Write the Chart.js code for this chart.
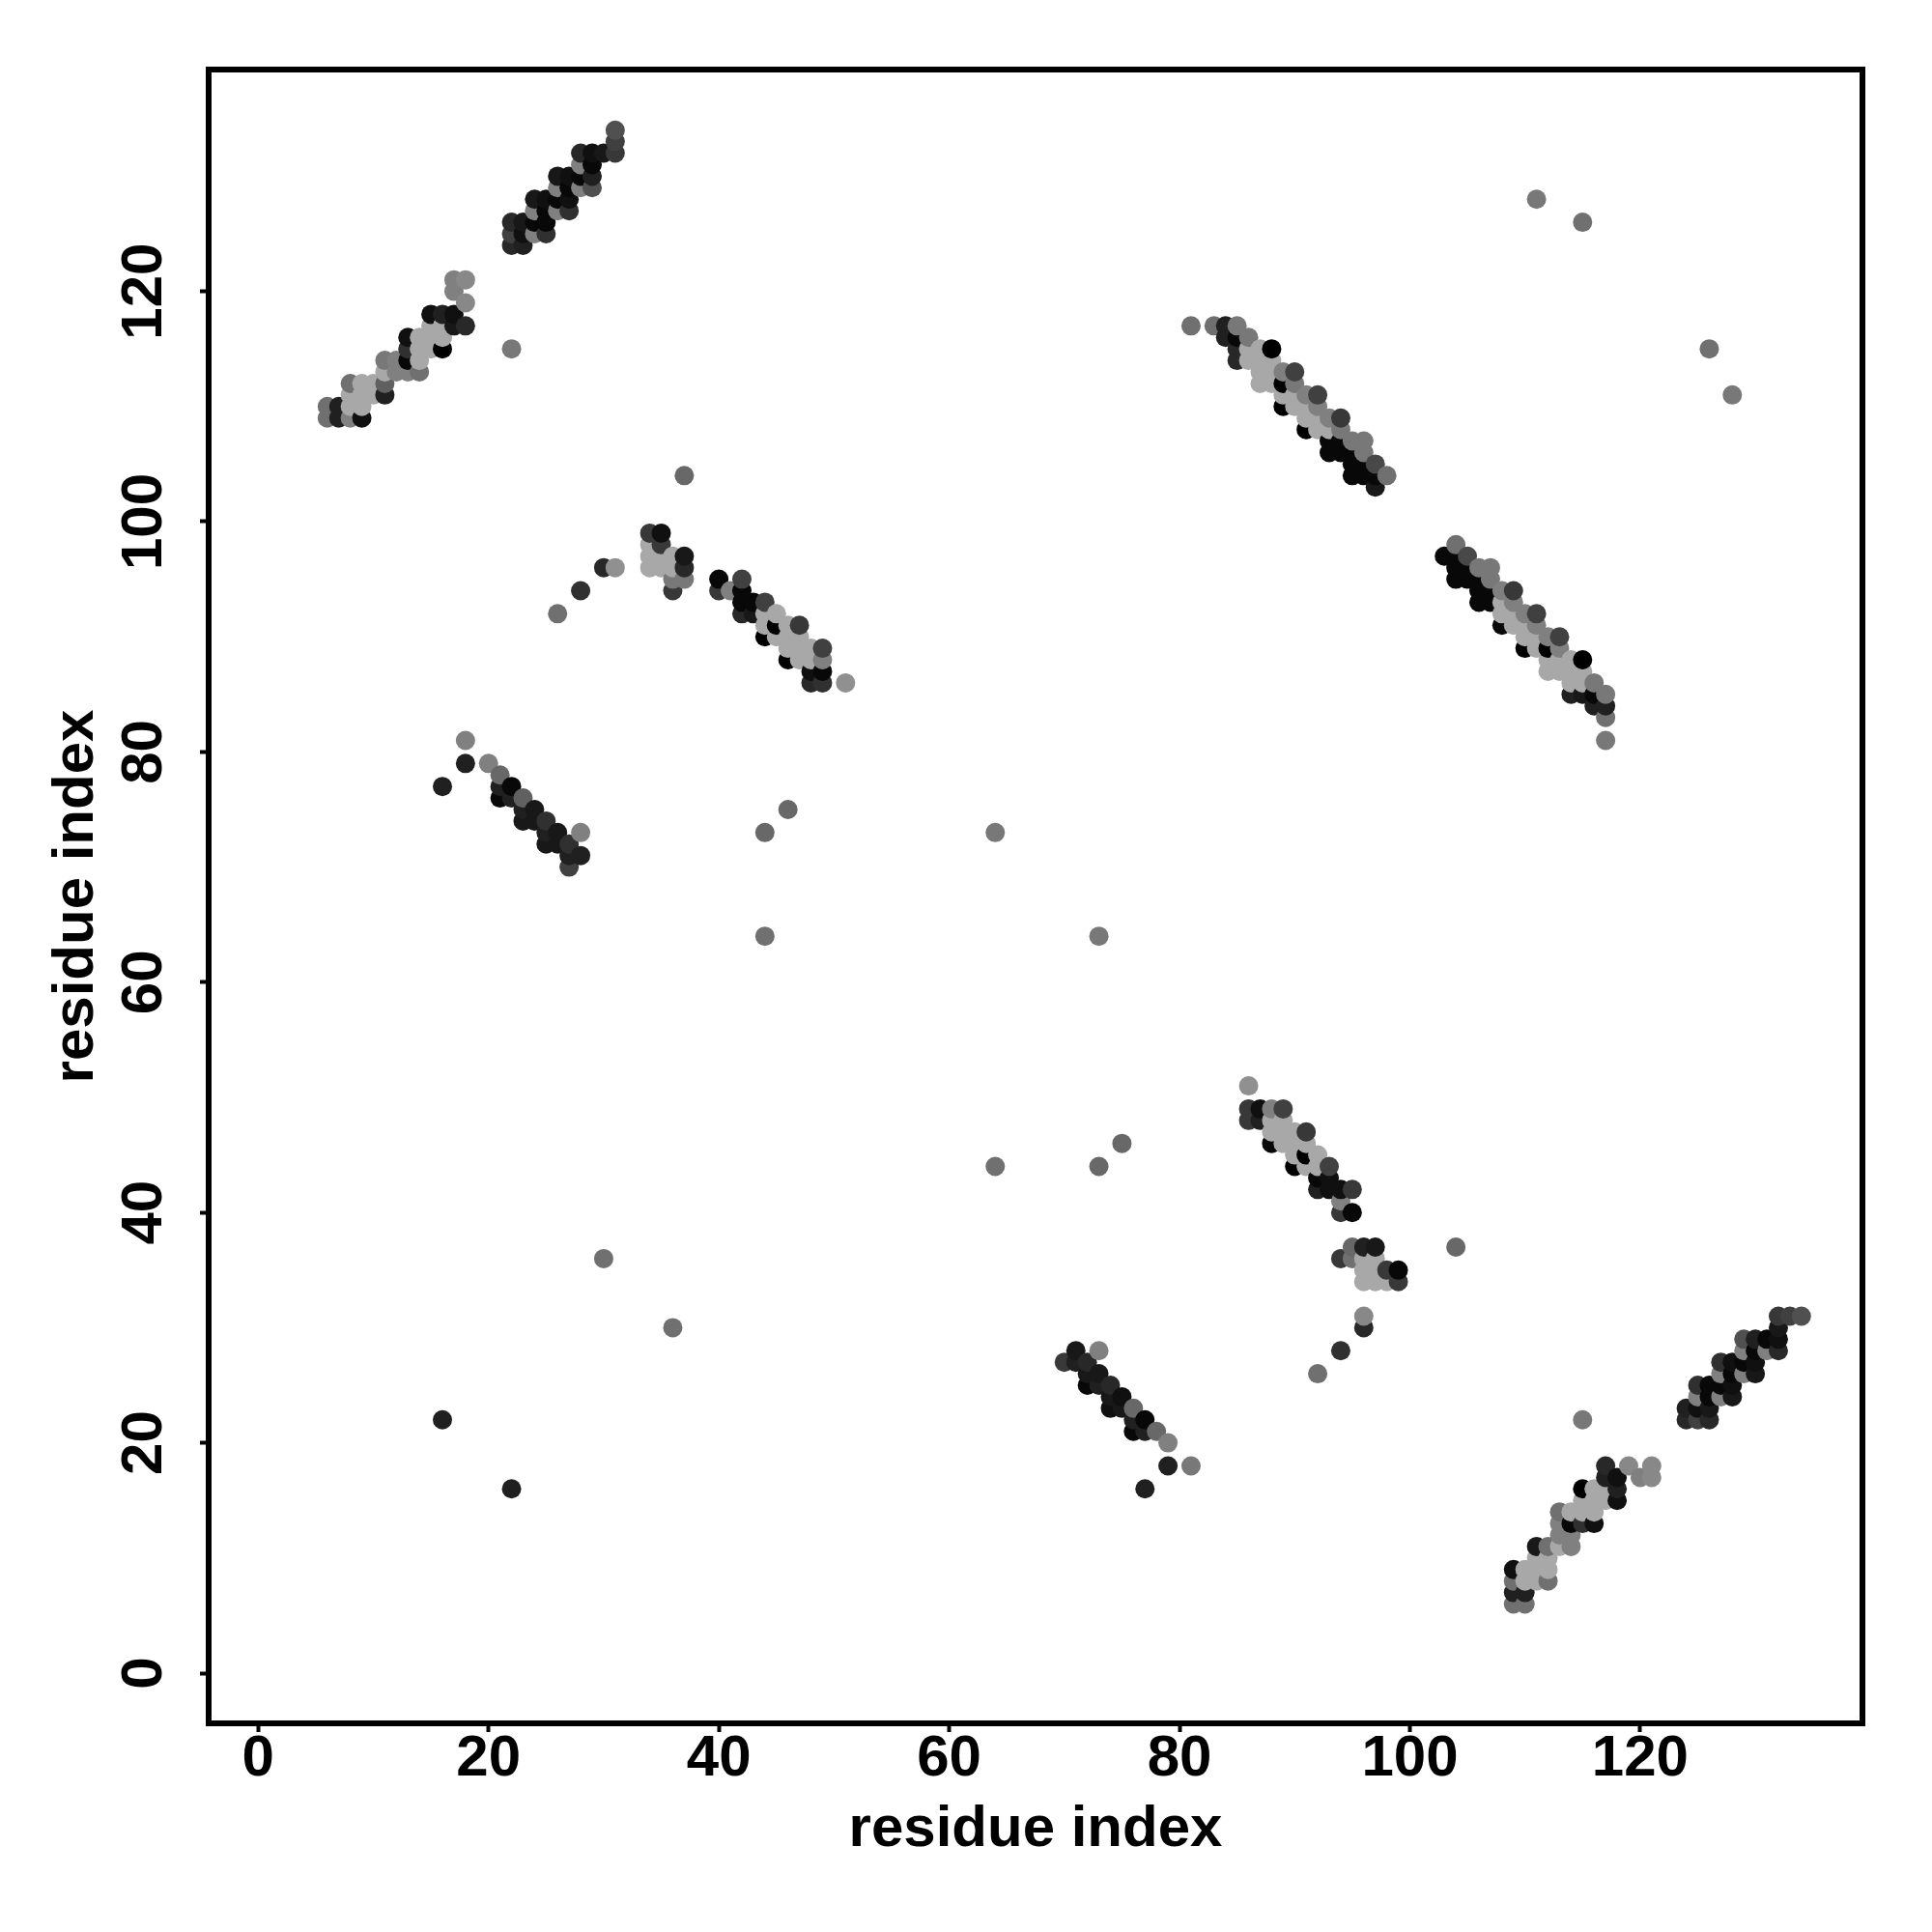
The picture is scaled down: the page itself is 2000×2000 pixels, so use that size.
<!DOCTYPE html>
<html>
<head>
<meta charset="utf-8">
<title>residue contact map</title>
<script src="https://cdn.jsdelivr.net/npm/chart.js@4"></script>
<style>
  html, body { margin: 0; background: #fff; }
  canvas { display: block; }
</style>
</head>
<body>
<canvas id="myChart" width="2000" height="2000"></canvas>
<script>
// one entry per residue column, points are drawn left to right, bottom to top
const columnX = [
  6, 7, 8, 9, 10, 11, 12, 13, 14, 15, 16, 17, 18, 20, 21, 22, 23, 24, 25, 26, 27, 28, 29, 30, 31,
  34, 35, 36, 37, 40, 41, 42, 43, 44, 45, 46, 47, 48, 49, 51, 64,
  70, 71, 72, 73, 74, 75, 76, 77, 78, 79, 81, 83, 84, 85, 86, 87, 88, 89, 90, 91, 92, 93, 94, 95, 96, 97, 98, 99,
  103, 104, 105, 106, 107, 108, 109, 110, 111, 112, 113, 114, 115, 116, 117, 118, 119, 120, 121,
  124, 125, 126, 127, 128, 129, 130, 131, 132, 133, 134
];
const columnY = [
  [109,110], [109,110], [109,110,111,112], [109,110,111,112], [111,112], [111,112,113,114], [113,114],
  [113,114,115,116], [113,114,115,116], [115,116,117,118], [22,77,115,116,117,118], [117,118,120,121],
  [79,81,117,119,121], [79], [76,77,78], [16,76,77,115,124,125,126], [74,75,76,124,125,126],
  [74,75,125,126,127,128], [72,73,74,125,126,127,128], [72,73,92,127,128,129,130], [70,71,72,127,128,129,130],
  [71,73,94,129,130,131,132], [129,130,131,132], [36,96,132], [96,132,133,134],
  [96,97,98,99], [96,97,98,99], [30,94,95,96,97], [95,96,97,104], [94,95], [94], [92,93,94,95], [92,93],
  [64,73,90,91,92,93], [90,91,92], [75,88,89,90,91], [88,89,90,91], [86,87,88,89], [86,87,88,89], [86], [44,73],
  [27], [27,28], [25,26,27], [25,26,28,44,64], [23,24,25], [23,24,46], [21,22,23], [16,21,22], [21], [18,20],
  [18,117], [117], [116,117], [114,115,116,117], [48,49,51,114,115,116], [48,49,112,113,114,115],
  [46,47,48,49,112,113,114,115], [46,47,48,49,110,111,112,113], [44,45,46,47,110,111,112,113],
  [44,45,46,47,108,109,110,111], [26,42,43,44,45,108,109,110,111], [42,43,44,106,107,108,109],
  [28,36,40,41,42,106,107,108,109], [36,37,40,42,104,105,106,107], [30,31,34,35,36,37,104,105,106,107],
  [34,35,36,37,103,104,105], [34,35,104], [34,35],
  [97], [37,95,96,97,98], [95,96,97], [93,94,95,96], [93,94,95,96], [91,92,93,94], [6,7,8,9,91,92,93,94],
  [6,7,8,9,89,90,91,92], [8,9,10,11,89,90,91,92,128], [8,9,10,11,87,88,89,90], [11,12,13,14,87,88,89,90],
  [11,12,13,14,85,86,87,88], [13,14,15,16,22,85,86,87,88,126], [13,14,15,16,84,85,86], [15,16,17,18,81,83,84,85],
  [15,16,17], [18], [17], [17,18],
  [22,23], [22,23,24,25], [22,23,24,25,115], [24,25,26,27], [24,25,26,27,111], [26,27,28,29], [26,27,28,29],
  [28,29], [28,29,30,31], [31], [31]
];
// grey level of each point, same shape as columnY
const columnShade = [
  [0x70,0x70], [0x20,0x20], [0x80,0xa8,0xa8,0x70], [0x10,0xa8,0xa8,0xa8], [0xa8,0xa8], [0x20,0x60,0xa8,0x78], [0x80,0x80],
  [0x80,0x08,0x30,0x10], [0x70,0xa8,0xa8,0xa8], [0xa8,0xa8,0xa8,0x10], [0x20,0x20,0x00,0xa8,0xa8,0x20], [0x18,0x10,0x80,0x80],
  [0x20,0x80,0x28,0x88,0x88], [0x80], [0x08,0x20,0x68], [0x20,0x20,0x08,0x78,0x28,0x40,0x28], [0x18,0x20,0x60,0x20,0x10,0x18],
  [0x18,0x18,0x80,0x08,0x80,0x18], [0x18,0x20,0x30,0x30,0x08,0x08,0x10], [0x18,0x18,0x70,0x80,0x08,0x80,0x18], [0x40,0x20,0x30,0x30,0x10,0x08,0x10],
  [0x20,0x80,0x30,0x80,0x08,0x80,0x28], [0x50,0x20,0x08,0x10], [0x70,0x28,0x18], [0x90,0x38,0x40,0x50],
  [0xa8,0xa8,0xa8,0x38], [0xa8,0xa8,0x38,0x10], [0x70,0x38,0x78,0xa8,0xa8], [0x78,0x28,0x18,0x68], [0x38,0x08], [0x80], [0x28,0x08,0x08,0x40], [0x18,0x08],
  [0x70,0x68,0x00,0xa8,0xa8,0x40], [0xa8,0x00,0xa8], [0x68,0x00,0xa8,0xa8,0xa8], [0xa8,0xa8,0xa8,0x38], [0x28,0x10,0xa8,0xa8], [0x30,0x08,0x80,0x40], [0x90], [0x70,0x78],
  [0x38], [0x20,0x18], [0x08,0x18,0x28], [0x20,0x18,0x80,0x68,0x78], [0x10,0x18,0x28], [0x18,0x10,0x68], [0x08,0x20,0x68], [0x20,0x20,0x08], [0x68], [0x20,0x80],
  [0x78,0x70], [0x70], [0x20,0x20], [0x28,0x28,0x08,0x78], [0x38,0x38,0x90,0xa8,0xa8,0x78], [0x20,0x10,0xa8,0xa8,0xa8,0xa8],
  [0x08,0xa8,0xa8,0x80,0xa8,0xa8,0xa8,0x00], [0xa8,0xa8,0xa8,0x40,0x00,0xa8,0x00,0x80], [0x00,0xa8,0xa8,0xa8,0xa8,0xa8,0x78,0x40],
  [0xa8,0x00,0xa8,0x38,0x00,0xa8,0xa8,0x80], [0x70,0x20,0x08,0xa8,0xa8,0xa8,0xa8,0x80,0x40], [0x10,0x10,0x40,0x08,0x08,0xa8,0x80],
  [0x30,0x38,0x38,0x80,0x10,0x08,0x08,0x78,0x38], [0x70,0x68,0x08,0x38,0x08,0x08,0x08,0x78], [0x28,0x88,0xa8,0xa8,0xa8,0x20,0x08,0x08,0x78,0x78],
  [0xa8,0xa8,0xa8,0x18,0x18,0x08,0x48], [0xa8,0x38,0x70], [0x38,0x08],
  [0x08], [0x68,0x08,0x08,0x08,0x70], [0x08,0x08,0x48], [0x08,0x08,0x08,0x78], [0x08,0x08,0x78,0x78], [0x08,0xa8,0xa8,0x80], [0x70,0x20,0x70,0x10,0xa8,0xa8,0x80,0x38],
  [0x70,0x20,0xa8,0xa8,0x00,0xa8,0xa8,0x80], [0xa8,0xa8,0xa8,0x18,0xa8,0xa8,0x80,0x40,0x78], [0x70,0xa8,0xa8,0x70,0xa8,0xa8,0x00,0x80], [0xa8,0x80,0x80,0x70,0xa8,0xa8,0x80,0x40],
  [0x80,0x80,0x08,0xa8,0x20,0xa8,0xa8,0xa8], [0x30,0xa8,0xa8,0x00,0x78,0x18,0xa8,0xa8,0x00,0x70], [0x10,0xa8,0xa8,0xa8,0x20,0x08,0x78], [0xa8,0xa8,0x20,0x28,0x78,0x70,0x20,0x78],
  [0x10,0x20,0x10], [0x88], [0x80], [0x88,0x88],
  [0x28,0x20], [0x40,0x10,0x80,0x30], [0x28,0x18,0x08,0x08,0x70], [0x80,0x08,0x80,0x30], [0x18,0x10,0x08,0x10,0x78], [0x80,0x08,0x80,0x50], [0x18,0x10,0x08,0x20],
  [0x80,0x08], [0x28,0x10,0x18,0x38], [0x40], [0x50]
];
const tickValues = [0, 20, 40, 60, 80, 100, 120];
const axisTitle = 'residue index';

const points = [];
const colors = [];
columnX.forEach((x, i) => {
  columnY[i].forEach((y, j) => {
    const g = columnShade[i][j];
    points.push({ x: x, y: y });
    colors.push('rgb(' + g + ',' + g + ',' + g + ')');
  });
});

const labelFont = { family: '"Liberation Sans", Arial, sans-serif', size: 60, weight: 'bold' };

// box around the plot, R style
const framePlugin = {
  id: 'frame',
  afterDatasetsDraw(chart) {
    const { ctx, chartArea } = chart;
    ctx.save();
    ctx.strokeStyle = '#000';
    ctx.lineWidth = 6;
    ctx.strokeRect(chartArea.left, chartArea.top, chartArea.right - chartArea.left, chartArea.bottom - chartArea.top);
    ctx.restore();
  }
};

const setTicks = scale => { scale.ticks = tickValues.map(v => ({ value: v, label: String(v) })); };

new Chart(document.getElementById('myChart'), {
  type: 'scatter',
  data: {
    datasets: [{
      data: points,
      pointBackgroundColor: colors,
      pointBorderWidth: 0,
      pointRadius: 10,
      clip: false
    }]
  },
  options: {
    responsive: false,
    animation: false,
    layout: { padding: { top: 72, right: 72, left: 0, bottom: 0 } },
    plugins: { legend: { display: false }, tooltip: { enabled: false } },
    scales: {
      x: {
        type: 'linear',
        min: -4.3,
        max: 139.3,
        afterBuildTicks: setTicks,
        afterFit: scale => { scale.height = 216; },
        border: { display: false },
        grid: { drawOnChartArea: false, drawTicks: true, tickLength: 9, tickWidth: 4, tickColor: '#000' },
        ticks: { color: '#000', font: labelFont, padding: -8, autoSkip: false, maxRotation: 0, minRotation: 0 },
        title: { display: true, text: axisTitle, color: '#000', font: labelFont, padding: { top: 0, bottom: 70 } }
      },
      y: {
        type: 'linear',
        min: -4.36,
        max: 139.26,
        afterBuildTicks: setTicks,
        afterFit: scale => { scale.width = 216; },
        border: { display: false },
        grid: { drawOnChartArea: false, drawTicks: true, tickLength: 9, tickWidth: 4, tickColor: '#000' },
        ticks: { color: '#000', font: labelFont, padding: 6, autoSkip: false, maxRotation: 90, minRotation: 90, crossAlign: 'center' },
        title: { display: true, text: axisTitle, color: '#000', font: labelFont, padding: { top: 43, bottom: 0 } }
      }
    }
  },
  plugins: [framePlugin]
});
</script>
</body>
</html>
